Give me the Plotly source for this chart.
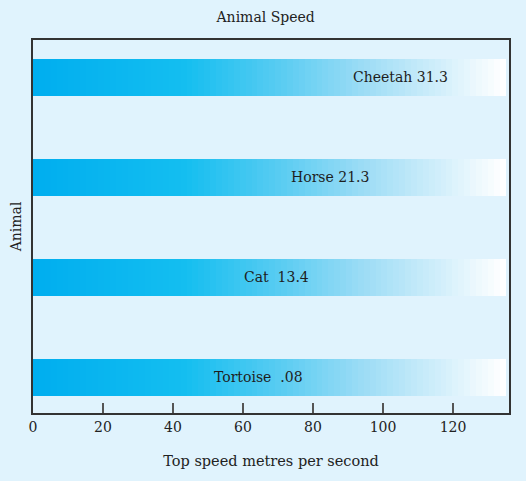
import plotly.graph_objects as go
from plotly.colors import sample_colorscale

# data
animals = ["Tortoise", "Cat", "Horse", "Cheetah"]
speeds = [".08", "13.4", "21.3", "31.3"]
track_length = [135, 135, 135, 135]
label_pos = [64.3, 69.7, 84.9, 104.9]
x_ticks = [0, 20, 40, 60, 80, 100, 120]

BG = "#e0f3fd"
FONT = "DejaVu Serif"

# cyan -> white fade used for every bar
fade = [[0.0, "#00aeef"], [0.32, "#14bef0"], [0.52, "#58ccf2"],
        [0.7, "#9cdcf5"], [0.87, "#d3effb"], [1.0, "#ffffff"]]
n_seg = 80
seg_colors = sample_colorscale(fade, [i / (n_seg - 1) for i in range(n_seg)])

fig = go.Figure()
for c in seg_colors:
    fig.add_trace(go.Bar(
        x=[t / n_seg for t in track_length], y=animals, orientation="h",
        marker=dict(color=c, line=dict(width=0)), width=0.37,
        showlegend=False, hoverinfo="skip"))

for a, s, lx in zip(animals, speeds, label_pos):
    gap = "\u00a0\u00a0" if a in ("Cat", "Tortoise") else " "
    fig.add_annotation(x=lx, y=a, text=a + gap + s, showarrow=False,
                       xanchor="center", font=dict(family=FONT, size=14, color="#1e1e1e"))

fig.update_layout(
    width=526, height=481, barmode="stack", bargap=0,
    paper_bgcolor=BG, plot_bgcolor=BG,
    margin=dict(l=33, r=17, t=40, b=68),
    font=dict(family=FONT, size=14, color="#222"),
    title=dict(text="Animal Speed", x=0.505, xanchor="center", y=0.975,
               font=dict(family=FONT, size=14, color="#222")),
)
fig.update_xaxes(range=[0, 136], tickvals=x_ticks, ticks="inside", ticklen=10,
                 tickcolor="#555", tickwidth=1.5, showgrid=False, zeroline=False,
                 showline=True, linecolor="#333", linewidth=1.5, mirror=True,
                 title=dict(text="Top speed metres per second", standoff=22,
                            font=dict(family=FONT, size=14.5)),
                 tickfont=dict(family=FONT, size=14))
fig.update_yaxes(categoryorder="array", categoryarray=animals, range=[-0.355, 3.37],
                 showticklabels=False, ticks="", showgrid=False, zeroline=False,
                 showline=True, linecolor="#333", linewidth=1.5, mirror=True,
                 title=dict(text="Animal", standoff=6, font=dict(family=FONT, size=14)))

fig.write_html("out.html", config={"displayModeBar": False}, post_script=(
    "document.body.style.margin='0';"
    "document.body.style.background='" + BG + "';"))
